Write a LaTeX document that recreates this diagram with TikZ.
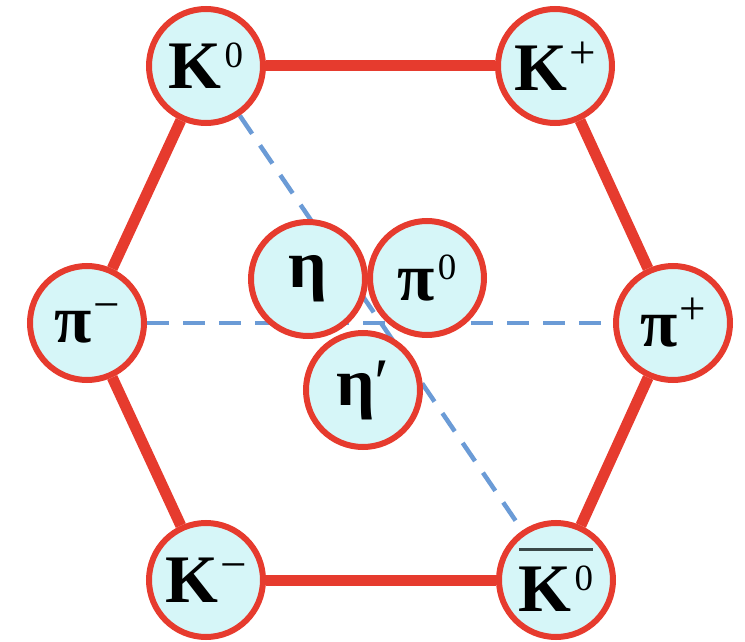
\documentclass[tikz,border=0pt]{standalone}
\usepackage{fontspec}
\setmainfont{Liberation Serif}
\usetikzlibrary{backgrounds}
\definecolor{hexred}{HTML}{E63B2E}
\definecolor{ballfill}{HTML}{D6F6F8}
\definecolor{dashblue}{HTML}{6B9BD6}
\definecolor{bargray}{HTML}{3A4848}
\newcommand{\psup}[1]{\kern3pt\raisebox{21pt}{\fontsize{37}{37}\selectfont\mdseries #1}}
\newcommand{\csup}[1]{\kern2pt\raisebox{22pt}{\fontsize{47}{47}\selectfont\mdseries #1}}
\newcommand{\kbar}[1]{\vbox{\hbox to \wd0{}\color{bargray}\hrule height 3pt\kern15pt\hbox{\color{black}#1}}}
\tikzset{
  ball/.style={circle, draw=hexred, fill=ballfill, line width=6pt, minimum size=114pt, inner sep=0pt,
    font=\fontsize{68}{68}\selectfont\bfseries},
  hexline/.style={draw=hexred, line width=11pt},
  axisline/.style={draw=dashblue, line width=4.5pt, dash pattern=on 22pt off 14pt}
}
\begin{document}
\begin{tikzpicture}[x=1pt,y=-1pt]
\useasboundingbox (0,0) rectangle (745,642);
\node[ball] (k0) at (206,66) {K\psup{0}};
\node[ball] (kp) at (555,66) {K\csup{+}};
\node[ball] (pim) at (87,323) {π\csup{−}};
\node[ball] (pip) at (673,323) {π\csup{+}};
\node[ball] (km) at (206,580) {K\csup{−}};
\node[ball] (k0b) at (556,580) {\vbox{{\color{bargray}\hrule height 3pt}\kern15pt\hbox{K\psup{0}}}};
\node[ball] (eta) at (308,279) {η};
\node[ball] (pi0) at (427,278) {π\psup{0}};
\node[ball] (etap) at (363,390) {η{\mdseries ′}};
\begin{scope}[on background layer]
  \draw[hexline] (k0) -- (kp);
  \draw[hexline] (kp) -- (pip);
  \draw[hexline] (pip) -- (k0b);
  \draw[hexline] (k0b) -- (km);
  \draw[hexline] (km) -- (pim);
  \draw[hexline] (pim) -- (k0);
  \draw[axisline] (pim) -- (pip);
  \draw[axisline] (k0) -- (k0b);
\end{scope}
\end{tikzpicture}
\end{document}
